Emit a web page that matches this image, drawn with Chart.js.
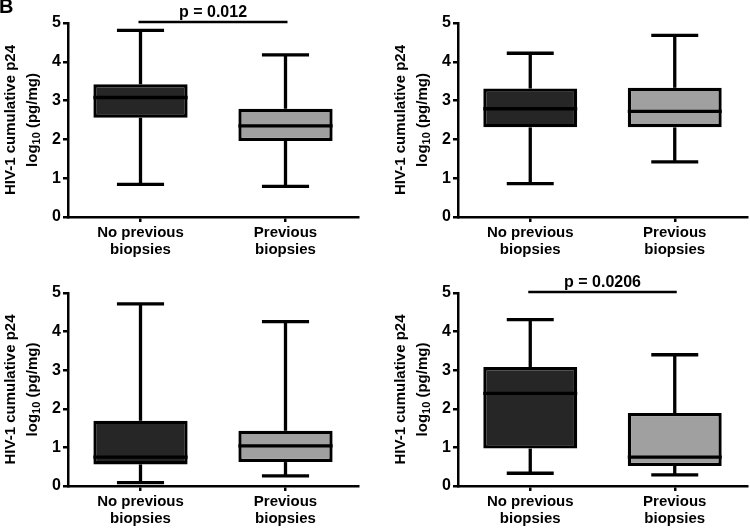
<!DOCTYPE html>
<html>
<head>
<meta charset="utf-8">
<script src="https://cdn.jsdelivr.net/npm/chart.js@4"></script>
<style>
  body { margin: 0; background: #fff; }
  #wrap { position: relative; width: 750px; height: 528px; overflow: hidden; }
  .panel { position: absolute; width: 375px; height: 264px; }
  #panelLetter { position: absolute; left: -1px; top: -5px; font: bold 20px "Liberation Sans", Arial, sans-serif; color: #000; }
</style>
</head>
<body>
<div id="wrap">
  <div class="panel" style="left:0;top:0"><canvas id="c1"></canvas></div>
  <div class="panel" style="left:375px;top:0"><canvas id="c2"></canvas></div>
  <div class="panel" style="left:0;top:264px"><canvas id="c3"></canvas></div>
  <div class="panel" style="left:375px;top:264px"><canvas id="c4"></canvas></div>
  <div id="panelLetter">B</div>
</div>
<script>
// categories + tick values
const groups = [['No previous', 'biopsies'], ['Previous', 'biopsies']];
const yTicks = [0, 1, 2, 3, 4, 5];

// box stats per panel: [min, q1, median, q3, max] for each group
const panel1 = [[0.84, 2.56, 3.08, 3.42, 4.81], [0.79, 1.96, 2.35, 2.79, 4.18]];
const panel2 = [[0.86, 2.31, 2.79, 3.31, 4.22], [1.42, 2.31, 2.72, 3.33, 4.68]];
const panel3 = [[0.09, 0.56, 0.75, 1.69, 4.72], [0.26, 0.62, 1.04, 1.43, 4.26]];
const panel4 = [[0.33, 0.97, 2.40, 3.08, 4.31], [0.29, 0.52, 0.75, 1.89, 3.40]];

// p-value labels (null = none), bracket drawn at y = 5
const pValues = ['p = 0.012', null, null, 'p = 0.0206'];

const boxColors = ['#262626', '#a0a0a0'];
const FONT = '"Liberation Sans", Arial, sans-serif';

// whiskers, medians, p-bracket and y title drawn with the chart's own scales
const boxPlugin = {
    id: 'boxExtras',
    afterDatasetsDraw(chart) {
        const ctx = chart.ctx;
        const x = chart.scales.x, y = chart.scales.y;
        const stats = chart.options.plugins.boxExtras.stats;
        const meta = chart.getDatasetMeta(0);
        ctx.save();
        ctx.strokeStyle = '#000';
        ctx.lineWidth = 3.3;
        ctx.lineCap = 'butt';
        stats.forEach((s, i) => {
            const bar = meta.data[i];
            const cx = bar.x;
            const half = bar.width / 2;
            const cap = half * 0.5;
            const line = (x1, y1, x2, y2) => {
                ctx.beginPath(); ctx.moveTo(x1, y1); ctx.lineTo(x2, y2); ctx.stroke();
            };
            // whiskers
            line(cx, y.getPixelForValue(s[3]), cx, y.getPixelForValue(s[4]));
            line(cx, y.getPixelForValue(s[1]), cx, y.getPixelForValue(s[0]));
            line(cx - cap, y.getPixelForValue(s[4]), cx + cap, y.getPixelForValue(s[4]));
            line(cx - cap, y.getPixelForValue(s[0]), cx + cap, y.getPixelForValue(s[0]));
            // median
            line(cx - half, y.getPixelForValue(s[2]), cx + half, y.getPixelForValue(s[2]));
        });
        const p = chart.options.plugins.boxExtras.pText;
        if (p) {
            const x1 = x.getPixelForValue(0) - 2, x2 = x.getPixelForValue(1) + 2;
            const yy = y.getPixelForValue(5) - 1;
            ctx.lineWidth = 2.5;
            ctx.beginPath(); ctx.moveTo(x1, yy); ctx.lineTo(x2, yy); ctx.stroke();
            ctx.fillStyle = '#000';
            ctx.font = 'bold 16px ' + FONT;
            ctx.textAlign = 'center';
            ctx.textBaseline = 'alphabetic';
            ctx.fillText(p, (x1 + x2) / 2, yy - 5);
        }
        // y axis title with subscript
        const area = chart.chartArea;
        const midY = (area.top + area.bottom) / 2;
        ctx.fillStyle = '#000';
        ctx.translate(area.left - 53, midY);
        ctx.rotate(-Math.PI / 2);
        ctx.textBaseline = 'alphabetic';
        ctx.textAlign = 'center';
        ctx.font = 'bold 15px ' + FONT;
        ctx.fillText('HIV-1 cumulative p24', 0, 0);
        const a = 'log', sub = '10', b = ' (pg/mg)';
        const wa = ctx.measureText(a).width, wb = ctx.measureText(b).width;
        ctx.font = 'bold 11px ' + FONT;
        const ws = ctx.measureText(sub).width;
        let sx = -(wa + ws + wb) / 2;
        ctx.textAlign = 'left';
        ctx.font = 'bold 15px ' + FONT;
        ctx.fillText(a, sx, 22);
        ctx.font = 'bold 11px ' + FONT;
        ctx.fillText(sub, sx + wa, 25);
        ctx.font = 'bold 15px ' + FONT;
        ctx.fillText(b, sx + wa + ws, 22);
        ctx.restore();
    }
};

function makeChart(id, stats, pText, lay) {
    new Chart(document.getElementById(id), {
        type: 'bar',
        data: {
            labels: groups,
            datasets: [{
                data: stats.map(s => [s[1], s[3]]),
                backgroundColor: boxColors,
                borderColor: '#000',
                borderWidth: 3.3,
                borderSkipped: false,
                categoryPercentage: 1,
                barPercentage: 0.65
            }]
        },
        options: {
            responsive: false,
            animation: false,
            layout: { padding: { top: lay.top, right: lay.right, left: 0, bottom: 0 } },
            plugins: {
                legend: { display: false },
                tooltip: { enabled: false },
                boxExtras: { stats: stats, pText: pText }
            },
            scales: {
                x: {
                    grid: { display: true, offset: false, drawOnChartArea: false, drawTicks: true, tickLength: 5, color: '#000', lineWidth: 2.5 },
                    border: { display: true, color: '#000', width: 2.5 },
                    ticks: { color: '#000', font: { family: FONT, size: 15, weight: 'bold', lineHeight: 1.1 }, padding: 3, maxRotation: 0 },
                    afterFit: s => { s.height = lay.xh; }
                },
                y: {
                    min: 0, max: 5,
                    afterBuildTicks: s => { s.ticks = yTicks.map(v => ({ value: v })); },
                    grid: { display: true, drawOnChartArea: false, drawTicks: true, tickLength: 5, color: '#000', lineWidth: 2.5 },
                    border: { display: true, color: '#000', width: 2.5 },
                    ticks: { color: '#000', font: { family: FONT, size: 16, weight: 'bold' }, padding: 2 },
                    afterFit: s => { s.width = lay.yw; }
                }
            }
        },
        plugins: [boxPlugin]
    });
}

function sizeCanvas(id) {
    const c = document.getElementById(id);
    c.width = 375; c.height = 264;
    c.style.width = '375px'; c.style.height = '264px';
}
['c1', 'c2', 'c3', 'c4'].forEach(sizeCanvas);

makeChart('c1', panel1, pValues[0], { top: 23, right: 17, yw: 68, xh: 47 });
makeChart('c2', panel2, pValues[1], { top: 23, right: 3, yw: 83, xh: 47 });
makeChart('c3', panel3, pValues[2], { top: 29, right: 17, yw: 68, xh: 42 });
makeChart('c4', panel4, pValues[3], { top: 29, right: 3, yw: 83, xh: 42 });
</script>
</body>
</html>
